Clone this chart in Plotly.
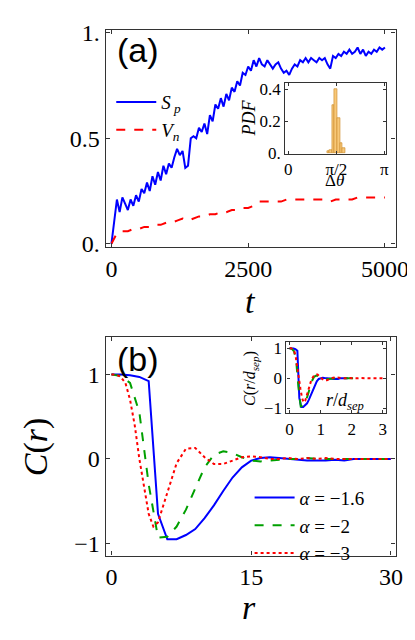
import plotly.graph_objects as go
import math

t_sp = list(range(0, 5001, 50))
sp = [0.00,0.12,0.21,0.15,0.22,0.19,0.16,0.21,0.18,0.23,0.20,0.26,0.24,0.29,0.25,0.32,0.28,0.34,0.30,0.37,
      0.33,0.38,0.36,0.41,0.45,0.42,0.44,0.36,0.37,0.50,0.51,0.50,0.55,0.53,0.57,0.52,0.61,0.58,0.66,0.64,
      0.69,0.65,0.71,0.68,0.74,0.72,0.77,0.75,0.81,0.80,0.84,0.82,0.87,0.84,0.88,0.85,0.84,0.87,0.85,0.83,
      0.85,0.86,0.83,0.81,0.82,0.80,0.83,0.85,0.84,0.87,0.86,0.88,0.86,0.88,0.87,0.86,0.88,0.87,0.88,0.85,
      0.83,0.89,0.88,0.90,0.89,0.91,0.90,0.92,0.90,0.91,0.93,0.90,0.92,0.89,0.91,0.90,0.92,0.91,0.93,0.92,0.93]
t_vn = list(range(0, 5001, 100))
vn = [0.00,0.05,0.06,0.06,0.07,0.07,0.08,0.08,0.09,0.09,0.10,0.10,0.11,0.12,0.11,0.12,0.13,0.13,0.14,0.14,
      0.15,0.15,0.16,0.16,0.17,0.17,0.18,0.20,0.20,0.20,0.20,0.20,0.21,0.21,0.21,0.21,0.21,0.21,0.21,0.21,
      0.20,0.21,0.21,0.21,0.21,0.22,0.22,0.22,0.22,0.22,0.22]

hist_x = [1.30,1.39,1.47,1.55,1.65,1.73,1.81]
hist_y = [0.01,0.02,0.30,0.40,0.22,0.06,0.03]

r = list(range(0, 31))
c_blue = [1,1,0.99,0.97,0.92,-0.65,-0.95,-0.95,-0.9,-0.83,-0.7,-0.55,-0.38,-0.22,-0.1,-0.02,0.01,0.02,0.01,0,
          -0.01,-0.02,-0.02,-0.02,-0.01,-0.02,0,0,0,0,0]
c_green = [1,0.98,0.9,0.55,-0.3,-0.93,-0.92,-0.8,-0.6,-0.35,-0.1,0.05,0.09,0.07,0.02,-0.02,-0.03,-0.02,-0.01,0,
           0,0.01,0,0,0,0,0,0,0,0,0]
r_red = [0,0.5,1,1.5,2,2.5,3,3.5,4,4.5,5,6,7,8,9,10,11,12,13,14,15,16,17,18,19,20,21,22,23,24,25,26,27,28,29,30]
c_red = [1,1,0.97,0.9,0.7,0.4,0,-0.35,-0.65,-0.8,-0.75,-0.4,-0.05,0.12,0.13,0.02,-0.06,-0.06,-0.02,0.02,0.03,0.02,
         0,0,0.01,0,0.01,0,0.01,0,0,0,0,0,0,0]
dsep_blue, dsep_green, dsep_red = 16, 14, 10

SERIF = "Liberation Serif, serif"
SANS = "Liberation Sans, Arial, sans-serif"
fig = go.Figure()
BLUE, GREEN, RED = "#0000ff", "#00a000", "#ff0000"

fig.add_trace(go.Scatter(x=t_sp, y=sp, mode="lines", line=dict(color=BLUE, width=2),
                         name="<i>S</i><sub> <i>p</i></sub>", legend="legend"))
fig.add_trace(go.Scatter(x=t_vn, y=vn, mode="lines", line=dict(color=RED, width=2, dash="dash"),
                         name="<i>V</i><sub><i>n</i></sub>", legend="legend"))
fig.add_trace(go.Bar(x=hist_x, y=hist_y, width=0.08, marker=dict(color="#f8c878", line=dict(color="#d09030", width=0.7)),
                     xaxis="x2", yaxis="y2", showlegend=False))
fig.add_trace(go.Scatter(x=r, y=c_blue, mode="lines", line=dict(color=BLUE, width=2), xaxis="x3", yaxis="y3",
                         name="<i>α</i> = −1.6", legend="legend2"))
fig.add_trace(go.Scatter(x=r, y=c_green, mode="lines", line=dict(color=GREEN, width=2, dash="dash"), xaxis="x3", yaxis="y3",
                         name="<i>α</i> = −2", legend="legend2"))
fig.add_trace(go.Scatter(x=r_red, y=c_red, mode="lines", line=dict(color=RED, width=2, dash="dot"), xaxis="x3", yaxis="y3",
                         name="<i>α</i> = −3", legend="legend2"))
fig.add_trace(go.Scatter(x=[v/dsep_blue for v in r], y=c_blue, mode="lines", line=dict(color=BLUE, width=2), xaxis="x4", yaxis="y4", showlegend=False))
fig.add_trace(go.Scatter(x=[v/dsep_green for v in r], y=c_green, mode="lines", line=dict(color=GREEN, width=2, dash="dash"), xaxis="x4", yaxis="y4", showlegend=False))
fig.add_trace(go.Scatter(x=[v/dsep_red for v in r_red], y=c_red, mode="lines", line=dict(color=RED, width=2, dash="dot"), xaxis="x4", yaxis="y4", showlegend=False))

def ax(**kw):
    d = dict(showline=True, mirror="ticks", linecolor="#333", linewidth=1.3, ticks="inside", ticklen=4,
             tickcolor="#333", showgrid=False, zeroline=False, tickfont=dict(family=SERIF, size=24, color="black"))
    d.update(kw)
    return d

small = dict(family=SERIF, size=17, color="black")
fig.update_layout(
    width=415, height=640, margin=dict(l=0, r=0, t=0, b=0), plot_bgcolor="white", paper_bgcolor="white",
    font=dict(family=SERIF, color="black"),
    xaxis=ax(domain=[0.241, 0.964], anchor="y", range=[-106, 5194], tickvals=[0, 2500, 5000]),
    yaxis=ax(domain=[0.631, 0.981], anchor="x", range=[-0.014, 1.014], tickvals=[0, 0.5, 1], ticktext=["0.", "0.5", "1."]),
    xaxis2=ax(domain=[0.689, 0.940], anchor="y2", range=[-0.1, math.pi + 0.05], tickvals=[0, math.pi/2, math.pi],
              ticktext=["0", "π/2", "π"], tickfont=small, ticklen=3),
    yaxis2=ax(domain=[0.781, 0.895], anchor="x2", range=[-0.005, 0.44], tickvals=[0, 0.2, 0.4],
              ticktext=["0.", "0.2", "0.4"], tickfont=small, ticklen=3),
    xaxis3=ax(domain=[0.241, 0.964], anchor="y3", range=[-0.62, 30.5], tickvals=[0, 15, 30]),
    yaxis3=ax(domain=[0.133, 0.486], anchor="x3", range=[-1.143, 1.446], tickvals=[-1, 0, 1], ticktext=["−1", "0", "1"]),
    xaxis4=ax(domain=[0.692, 0.940], anchor="y4", range=[-0.1, 3.1], tickvals=[0, 1, 2, 3], tickfont=small, ticklen=3),
    yaxis4=ax(domain=[0.3625, 0.477], anchor="x4", range=[-1.16, 1.2], tickvals=[-1, 0, 1], ticktext=["−1", "0", "1"],
              tickfont=small, ticklen=3),
    barmode="overlay", bargap=0,
    legend=dict(x=0.255, y=0.895, xanchor="left", yanchor="top", bgcolor="rgba(0,0,0,0)",
                font=dict(family=SERIF, size=19, color="black"), tracegroupgap=0, itemwidth=40),
    legend2=dict(x=0.60, y=0.257, xanchor="left", yanchor="top", bgcolor="rgba(0,0,0,0)",
                 font=dict(family=SERIF, size=19, color="black"), itemwidth=40),
)

ann = [
    dict(text="(a)", x=133, y=33, font=dict(family=SANS, size=34)),
    dict(text="(b)", x=133, y=352, font=dict(family=SANS, size=34)),
    dict(text="<i>t</i>", x=250, y=293, font=dict(family=SERIF, size=34)),
    dict(text="<i>r</i>", x=248, y=608, font=dict(family=SERIF, size=34)),
    dict(text="<i>C</i>(<i>r</i>)", x=28, y=443, font=dict(family=SERIF, size=34), textangle=-90),
    dict(text="<i>PDF</i>", x=248, y=103, font=dict(family=SERIF, size=18), textangle=-90),
    dict(text="Δ<i>θ</i>", x=337, y=168, font=dict(family=SERIF, size=17)),
    dict(text="<i>C</i>(<i>r</i>/<i>d</i><sub><i>sep</i></sub>)", x=250, y=372, font=dict(family=SERIF, size=16), textangle=-90),
    dict(text="<i>r</i>/<i>d</i><sub><i>sep</i></sub>", x=348, y=396, font=dict(family=SERIF, size=18)),
]
for a in ann:
    a.update(xref="paper", yref="paper", showarrow=False, xanchor="center", yanchor="middle")
    a["x"] = a["x"] / 415
    a["y"] = 1 - a["y"] / 640
    a["font"]["color"] = "black"
    fig.add_annotation(**a)

fig.write_html("out.html")
